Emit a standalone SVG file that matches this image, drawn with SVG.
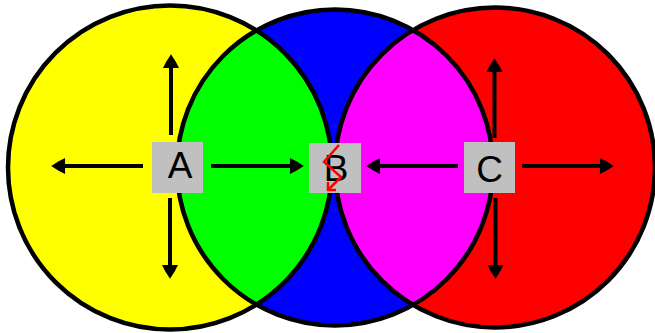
<svg xmlns="http://www.w3.org/2000/svg" width="655" height="333" viewBox="0 0 655 333">
  <style>
    .ring { fill: none; stroke: #000; stroke-width: 4.5; }
    .box { fill: #c0c0c0; }
    .lbl { font-family: "Liberation Sans", Arial, sans-serif; font-size: 37px; fill: #000; text-anchor: middle; }
    .conn { stroke: #000; stroke-width: 4; fill: none; }
    .bolt { stroke: #ff0000; stroke-width: 2.5; fill: none; stroke-linejoin: miter; }
  </style>
  <defs>
    <clipPath id="clipL"><circle cx="170" cy="167.5" r="162"/></clipPath>
    <clipPath id="clipR"><circle cx="495" cy="167.5" r="160"/></clipPath>
    <marker id="ah" markerUnits="userSpaceOnUse" markerWidth="16" markerHeight="16" refX="1" refY="7.5" orient="auto" viewBox="0 0 14 15">
      <path d="M0,0 L6,3 L13,7.5 L6,12 L0,15 Z" fill="#000"/>
    </marker>
  </defs>
  <rect width="655" height="333" fill="#fff"/>
  <g id="regions">
    <circle cx="170" cy="167.5" r="162" fill="#ffff00"/>
    <circle cx="335" cy="167.5" r="158" fill="#0000ff"/>
    <circle cx="495" cy="167.5" r="160" fill="#ff0000"/>
    <circle cx="335" cy="167.5" r="158" fill="#00ff00" clip-path="url(#clipL)"/>
    <circle cx="335" cy="167.5" r="158" fill="#ff00ff" clip-path="url(#clipR)"/>
    <circle class="ring" cx="170" cy="167.5" r="162"/>
    <circle class="ring" cx="335" cy="167.5" r="158"/>
    <circle class="ring" cx="495" cy="167.5" r="160"/>
  </g>
  <g id="connectors">
    <line class="conn" x1="171" y1="135" x2="171" y2="67" marker-end="url(#ah)"/>
    <line class="conn" x1="170" y1="198" x2="170" y2="266" marker-end="url(#ah)"/>
    <line class="conn" x1="143" y1="166" x2="64" y2="166" marker-end="url(#ah)"/>
    <line class="conn" x1="211" y1="166" x2="291" y2="166" marker-end="url(#ah)"/>
    <line class="conn" x1="458" y1="166" x2="379" y2="166" marker-end="url(#ah)"/>
    <line class="conn" x1="494.5" y1="138" x2="494.5" y2="71" marker-end="url(#ah)"/>
    <line class="conn" x1="522" y1="166" x2="601" y2="166" marker-end="url(#ah)"/>
    <line class="conn" x1="495.5" y1="198" x2="495.5" y2="266" marker-end="url(#ah)"/>
  </g>
  <g id="node-A">
    <rect class="box" x="152" y="142" width="51" height="51"/>
    <text class="lbl" x="180" y="178">A</text>
  </g>
  <g id="node-B">
    <rect class="box" x="309" y="143" width="52" height="50"/>
    <text class="lbl" x="336" y="181">B</text>
    <polyline class="bolt" points="339,145 324,162 341,177 328,190"/>
    <polyline class="bolt" points="328,182 328,190 336,190"/>
  </g>
  <g id="node-C">
    <rect class="box" x="464" y="142" width="51" height="51"/>
    <text class="lbl" x="489.5" y="182">C</text>
  </g>
</svg>
